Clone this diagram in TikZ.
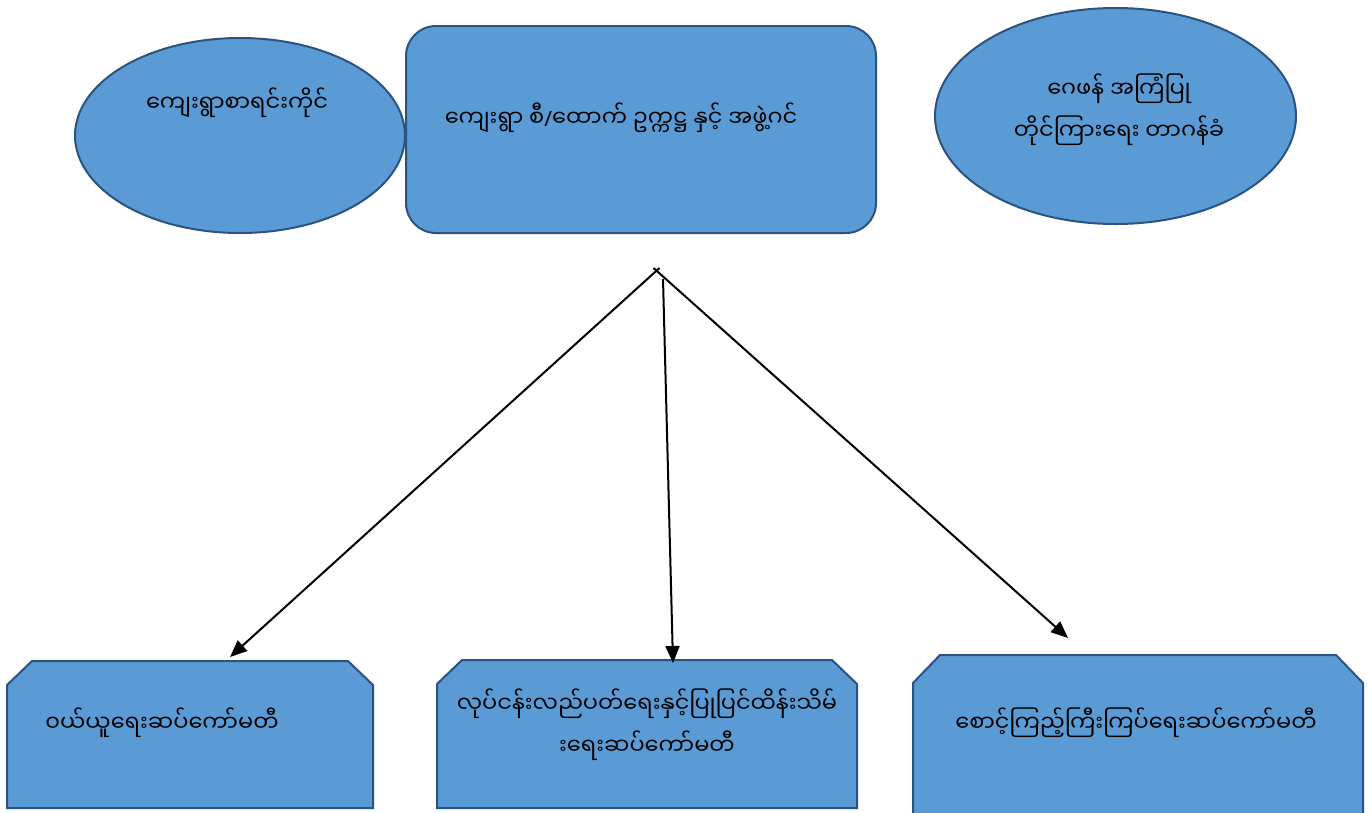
\documentclass[tikz,border=0pt]{standalone}
\usepackage{fontspec}
\newfontfamily\mm[Script=Myanmar]{Noto Sans Myanmar UI}
\newfontfamily\lat{Noto Sans}
\newcommand{\visarga}{\XeTeXglyph\XeTeXcharglyph"1038\relax}
\usetikzlibrary{shapes.geometric,arrows.meta}
\definecolor{fillblue}{RGB}{91,155,213}
\definecolor{edgeblue}{RGB}{44,82,130}
\begin{document}
\begin{tikzpicture}[x=1pt,y=-1pt,
  shp/.style={draw=edgeblue,fill=fillblue,line width=2pt},
  lbl/.style={font=\mm\fontsize{22.5}{42}\selectfont,align=center,inner sep=0pt},
  arr/.style={line width=2pt,-{Triangle[length=17pt,width=14pt]}}]
\useasboundingbox (0,0) rectangle (1372,812);
% top shapes
\node[shp,ellipse,minimum width=330pt,minimum height=195pt,inner sep=0pt] (e1) at (240,135.5) {};
\node[shp,rounded corners=30pt,minimum width=470pt,minimum height=207pt,inner sep=0pt] (r1) at (641,129.5) {};
\node[shp,ellipse,minimum width=361pt,minimum height=216pt,inner sep=0pt] (e2) at (1115.5,116) {};
\node[lbl] (t1) at (237,103) {ကျေးရွာစာရင်းကိုင်};
\node[lbl] (t2) at (621,118) {ကျေးရွာ စီ{\lat\fontsize{21}{21}\selectfont/}ထောက် ဥက္ကဋ္ဌ နှင့် အဖွဲ့ဂင်};
\node[lbl] (t3) at (1119,110) {ဂေဖန် အကြံပြု\\တိုင်ကြားရေး တာဂန်ခံ};
% bottom shapes
\draw[shp] (7,808) -- (7,685) -- (32,661) -- (348,661) -- (373,685) -- (373,808) -- cycle;
\draw[shp] (437,808) -- (437,684) -- (462,660) -- (832,660) -- (857,684) -- (857,808) -- cycle;
\draw[shp] (913,840) -- (913,683) -- (940,655) -- (1336,655) -- (1363,683) -- (1363,840) -- cycle;
\node[lbl] (b1) at (162,723) {၀ယ်ယူရေးဆပ်ကော်မတီ};
\node[lbl] (b2) at (647,725) {လုပ်ငန်းလည်ပတ်ရေးနှင့်ပြုပြင်ထိန်းသိမ်\\\visarga ရေးဆပ်ကော်မတီ};
\node[lbl] (b3) at (1136,723) {စောင့်ကြည့်ကြီးကြပ်ရေးဆပ်ကော်မတီ};
% connectors
\coordinate (hubl) at (659.5,268);
\coordinate (hubr) at (653.5,268);
\coordinate (hubm) at (663,279);
\coordinate (end1) at (230,657);
\coordinate (end2) at (673,663);
\coordinate (end3) at (1068,638);
\draw[arr] (hubl) -- (end1);
\draw[arr] (hubm) -- (end2);
\draw[arr] (hubr) -- (end3);
\end{tikzpicture}
\end{document}
